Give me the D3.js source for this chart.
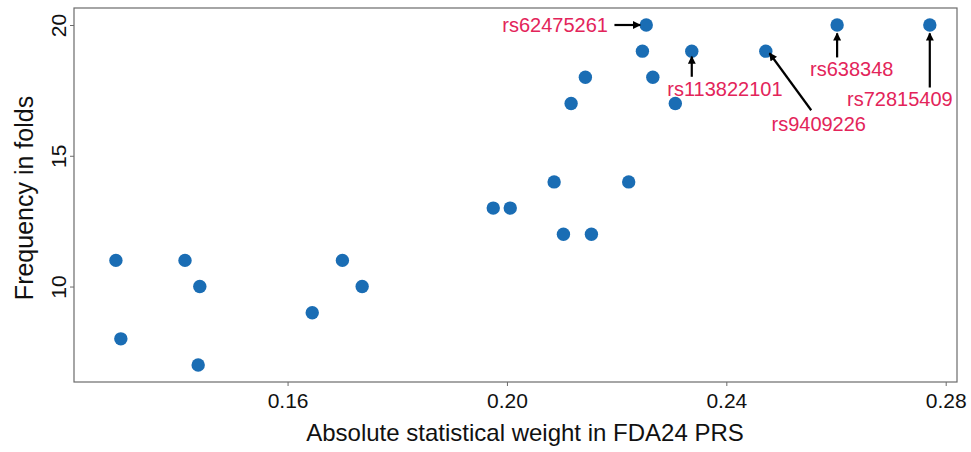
<!DOCTYPE html>
<html>
<head>
<meta charset="utf-8">
<script src="https://cdn.jsdelivr.net/npm/d3@7"></script>
<style>
    body { margin: 0; background: #fff; }
    text { font-family: "Liberation Sans", Arial, Helvetica, sans-serif; }
</style>
</head>
<body>
<svg id="chart"></svg>
<script>
// Absolute weight of each SNP in the PRS and how often it was picked across folds
const weights = [
    0.1287, 0.1296, 0.1413, 0.1440, 0.1437, 0.1645, 0.1700, 0.1736,
    0.1975, 0.2006, 0.2086, 0.2103, 0.2154, 0.2222,
    0.2117, 0.2143, 0.2247, 0.2254, 0.2266, 0.2307, 0.2337,
    0.2472, 0.2602, 0.2771
];
const folds = [
    11, 8, 11, 10, 7, 9, 11, 10,
    13, 13, 14, 12, 12, 14,
    17, 18, 19, 20, 18, 17, 19,
    19, 20, 20
];

// Annotated SNPs: label position and arrow start/end, in data units
const annotLabels = ['rs62475261', 'rs113822101', 'rs9409226', 'rs638348', 'rs72815409'];
const annotTextX = [0.21842, 0.23974, 0.25685, 0.26286, 0.27165];
const annotTextY = [20, 17.57, 16.21, 18.34, 17.19];
const annotAnchor = ['end', 'middle', 'middle', 'middle', 'middle'];
const arrowFromX = [0.2196, 0.2337, 0.25548, 0.2602, 0.2771];
const arrowFromY = [20, 18.02, 16.74, 18.76, 17.61];
const arrowToX = [0.2243, 0.2337, 0.24788, 0.2602, 0.2771];
const arrowToY = [20, 18.79, 18.92, 19.68, 19.68];

const xTicks = [0.16, 0.20, 0.24, 0.28];
const yTicks = [10, 15, 20];

const width = 971;
const height = 452;
const margin = { top: 8, right: 14, bottom: 70, left: 74 };

const svg = d3.select('#chart')
    .attr('width', width)
    .attr('height', height);

// Scales (domains include ggplot-like padding)
const x = d3.scaleLinear()
    .domain([0.12106, 0.28206])
    .range([margin.left, width - margin.right]);

const y = d3.scaleLinear()
    .domain([6.35, 20.65])
    .range([height - margin.bottom, margin.top]);

const gray = '#6b6b6b';

// Axes
const xAxis = svg.append('g')
    .attr('transform', `translate(0,${height - margin.bottom})`)
    .call(d3.axisBottom(x).tickValues(xTicks).tickFormat(d3.format('.2f')).tickSize(4).tickPadding(6));

const yAxis = svg.append('g')
    .attr('transform', `translate(${margin.left},0)`)
    .call(d3.axisLeft(y).tickValues(yTicks).tickFormat(d3.format('d')).tickSize(4).tickPadding(4));

[xAxis, yAxis].forEach(ax => {
    ax.select('.domain').remove();
    ax.selectAll('.tick line').attr('stroke', gray).attr('stroke-width', 1);
    ax.selectAll('.tick text')
        .attr('fill', '#111')
        .style('font-size', '21px');
});

xAxis.selectAll('.tick text').attr('dy', '0.78em');

// rotate y tick labels like base R (las = 0)
yAxis.selectAll('.tick text')
    .attr('transform', 'rotate(-90)')
    .attr('x', 0)
    .attr('y', -8)
    .attr('dy', 0)
    .attr('text-anchor', 'middle');

// Panel border
svg.append('rect')
    .attr('x', margin.left)
    .attr('y', margin.top)
    .attr('width', width - margin.left - margin.right)
    .attr('height', height - margin.top - margin.bottom)
    .attr('fill', 'none')
    .attr('stroke', gray)
    .attr('stroke-width', 1.2);

// Axis titles
svg.append('text')
    .attr('x', 525)
    .attr('y', 441)
    .attr('text-anchor', 'middle')
    .attr('fill', '#111')
    .style('font-size', '24px')
    .text('Absolute statistical weight in FDA24 PRS');

svg.append('text')
    .attr('transform', 'translate(33,198) rotate(-90)')
    .attr('text-anchor', 'middle')
    .attr('fill', '#111')
    .style('font-size', '25px')
    .text('Frequency in folds');

// Points
const points = weights.map((w, i) => ({ w: w, f: folds[i] }));

svg.selectAll('.dot')
    .data(points)
    .enter().append('circle')
    .attr('class', 'dot')
    .attr('cx', d => x(d.w))
    .attr('cy', d => y(d.f))
    .attr('r', 6.7)
    .attr('fill', '#1a6db4');

// Arrow marker
svg.append('defs').append('marker')
    .attr('id', 'arrowhead')
    .attr('viewBox', '0 0 10 10')
    .attr('refX', 9)
    .attr('refY', 5)
    .attr('markerUnits', 'userSpaceOnUse')
    .attr('markerWidth', 9)
    .attr('markerHeight', 8)
    .attr('orient', 'auto')
    .append('path')
    .attr('d', 'M0,0 L10,5 L0,10 Z')
    .attr('fill', '#000');

// Annotations
const annots = annotLabels.map((label, i) => ({
    label: label,
    tx: annotTextX[i], ty: annotTextY[i], anchor: annotAnchor[i],
    x1: arrowFromX[i], y1: arrowFromY[i], x2: arrowToX[i], y2: arrowToY[i]
}));

svg.selectAll('.arrow')
    .data(annots)
    .enter().append('line')
    .attr('class', 'arrow')
    .attr('x1', d => x(d.x1))
    .attr('y1', d => y(d.y1))
    .attr('x2', d => x(d.x2))
    .attr('y2', d => y(d.y2))
    .attr('stroke', '#000')
    .attr('stroke-width', 2.2)
    .attr('marker-end', 'url(#arrowhead)');

svg.selectAll('.annot')
    .data(annots)
    .enter().append('text')
    .attr('class', 'annot')
    .attr('x', d => x(d.tx))
    .attr('y', d => y(d.ty))
    .attr('dy', '0.36em')
    .attr('text-anchor', d => d.anchor)
    .attr('fill', '#e3245a')
    .style('font-size', '20px')
    .text(d => d.label);
</script>
</body>
</html>
